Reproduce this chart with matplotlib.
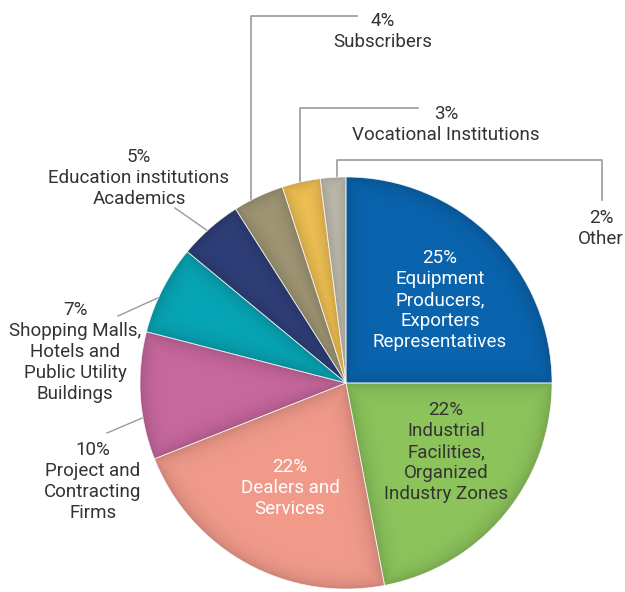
import numpy as np
import matplotlib
matplotlib.use('Agg')
import matplotlib.pyplot as plt
from matplotlib.colors import to_rgb
from matplotlib.patches import Circle

# sector shares, clockwise from 12 o'clock
labels = ['Equipment\nProducers,\nExporters\nRepresentatives',
          'Industrial\nFacilities,\nOrganized\nIndustry Zones',
          'Dealers and\nServices',
          'Project and\nContracting\nFirms',
          'Shopping Malls,\nHotels and\nPublic Utility\nBuildings',
          'Education institutions\nAcademics',
          'Subscribers',
          'Vocational Institutions',
          'Other']
shares = [25, 22, 22, 10, 7, 5, 4, 3, 2]
colors = ['#0a64ae', '#8dc55c', '#f29b8b', '#c9689f', '#07a6b6',
          '#2f3f79', '#a29876', '#f3c354', '#c4bfb2']

W, H = 625, 592
fig = plt.figure(figsize=(W/100, H/100), dpi=100)
ax = fig.add_axes([0, 0, 1, 1])

plt.rcParams['font.family'] = ['Roboto', 'DejaVu Sans']
fs = 13.5
lsp = 1.22
txt_col = '#333333'
line_col = '#9a9a9a'

cx, cy, R = 346, H - 383, 206

wedges, _ = ax.pie(shares, colors=colors, startangle=90, counterclock=False,
                   radius=R, center=(cx, cy), frame=True,
                   wedgeprops=dict(edgecolor='white', linewidth=0.6))

# soft shading: darken each sector towards its borders, lighten the middle
xx, yy = np.meshgrid(np.arange(cx - R, cx + R + 1) + 0.5,
                     np.arange(cy - R, cy + R + 1) + 0.5)
dx, dy = xx - cx, yy - cy
r = np.hypot(dx, dy)
theta = (90 - np.degrees(np.arctan2(dy, dx))) % 360   # clockwise from top
bounds = np.concatenate([[0], np.cumsum(shares)]) * 3.6
idx = np.clip(np.searchsorted(bounds, theta, side='right') - 1, 0, len(shares) - 1)
lo, hi = bounds[idx], bounds[idx + 1]
d_ang = np.minimum(theta - lo, hi - theta)
d_edge = np.minimum(r * np.sin(np.radians(np.minimum(d_ang, 90))), R - r)
shade = 1 - 0.16 * np.exp(-d_edge / 9.0)
rgb = np.array([to_rgb(c) for c in colors])[idx]
light = 1 + 0.06 * np.exp(-d_edge / 30.0) * 0
img = np.clip(rgb * shade[..., None], 0, 1)
im = ax.imshow(img, extent=(cx - R, cx + R + 1, cy - R, cy + R + 1),
               origin='lower', interpolation='bilinear', zorder=2)
im.set_clip_path(Circle((cx, cy), R, transform=ax.transData))

# thin light seams between sectors
for w in wedges:
    w.set_zorder(3)
    w.set_facecolor('none')
    w.set_edgecolor((1, 1, 1, 0.7))

ax.set_xlim(0, W)
ax.set_ylim(0, H)
ax.set_aspect('equal')
ax.axis('off')

def lab(i):
    return f'{shares[i]}%\n{labels[i]}'

def put(i, x, y, c=txt_col):
    ax.text(x, H - y, lab(i), ha='center', va='center', color=c,
            fontsize=fs, linespacing=lsp, zorder=5)

# labels inside the three big sectors
put(0, 440, 300, 'white')
put(1, 446, 452)
put(2, 290, 488, 'white')

def edge(deg):
    a = np.radians(deg)
    return cx + R*np.cos(a), cy + R*np.sin(a)

# elbow leaders for the small sectors on top
x0, y0 = edge(92.5)
ax.plot([x0, x0, 602, 602], [y0, H - 160, H - 160, H - 200], color=line_col, lw=1.2)
put(8, 601, 228.5)

x0, y0 = edge(102.9)
ax.plot([x0, x0, 418], [y0, H - 108, H - 108], color=line_col, lw=1.2)
put(7, 446, 124.5)

x0, y0 = edge(117.5)
ax.plot([x0, x0, 357], [y0, H - 16, H - 16], color=line_col, lw=1.2)
put(6, 383, 31.5)

# straight leaders on the left
diag = [  # index, anchor angle, line end (px), label centre
    (5, 132.3, (175, 208), (139, 178)),
    (4, 155.5, (118, 316), (75, 352)),
    (3, 189.7, (107, 433), (93, 481.5)),
]
for i, ang, (ex, ey), (lx, ly) in diag:
    x0, y0 = edge(ang)
    ax.plot([x0, ex], [y0, H - ey], color=line_col, lw=1.0)
    put(i, lx, ly)

fig.savefig('out.png', dpi=100, facecolor='white')
